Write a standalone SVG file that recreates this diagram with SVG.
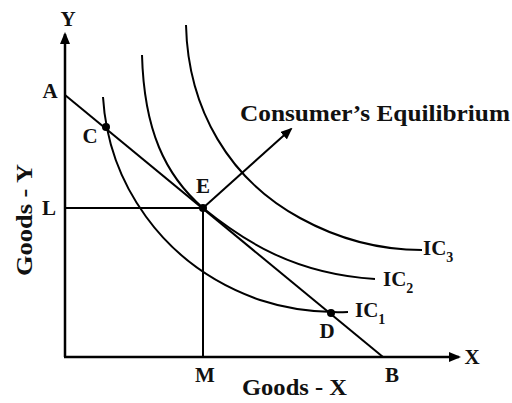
<svg xmlns="http://www.w3.org/2000/svg" width="512" height="403" viewBox="0 0 512 403">
<style>
.ln{stroke:#000;stroke-width:2;fill:none}
.ax{stroke:#000;stroke-width:2.5;fill:none}
.lb{font-family:"Liberation Serif","Times New Roman",serif;font-weight:bold;fill:#111;font-size:21px}
.gl{font-family:"Liberation Serif","Times New Roman",serif;font-weight:bold;fill:#111;font-size:23px}
.dot{fill:#000}
</style>
<defs>
<marker id="arr" viewBox="0 0 12 10" refX="10" refY="5" markerWidth="12" markerHeight="10" markerUnits="userSpaceOnUse" orient="auto">
<path d="M0,0 L12,5 L0,10 z" fill="#000"/>
</marker>
</defs>
<rect width="512" height="403" fill="#fff"/>
<g id="connectors">
<line class="ax" x1="65" y1="357" x2="65" y2="34" marker-end="url(#arr)"/>
<line class="ax" x1="64" y1="357" x2="459" y2="357" marker-end="url(#arr)"/>
<line id="budget" class="ln" x1="65" y1="95" x2="383" y2="357"/>
<line class="ln" x1="65" y1="208" x2="203" y2="208"/>
<line class="ln" x1="203" y1="208" x2="203" y2="357"/>
<path id="IC1" class="ln" d="M103,97 C108,180 160,265 260,300 C290,310 320,313 348,312"/>
<path id="IC2" class="ln" d="M142,55 C144,130 165,175 203,208 C245,242 295,274 375,279"/>
<path id="IC3" class="ln" d="M186,25 C188,110 230,180 300,218 C340,240 380,250 422,250"/>
<line class="ln" x1="203" y1="208" x2="291" y2="129" marker-end="url(#arr)"/>
</g>
<g id="pointC"><circle class="dot" cx="106" cy="127" r="4"/><text class="lb" x="90" y="143" text-anchor="middle">C</text></g>
<g id="pointE"><circle class="dot" cx="203" cy="208" r="4"/><text class="lb" x="203" y="193" text-anchor="middle">E</text></g>
<g id="pointD"><circle class="dot" cx="331" cy="313" r="4"/><text class="lb" x="327" y="338" text-anchor="middle">D</text></g>
<g id="labelA"><text class="lb" x="50" y="98" text-anchor="middle">A</text></g>
<g id="labelB"><text class="lb" x="392" y="382" text-anchor="middle">B</text></g>
<g id="labelL"><text class="lb" x="49" y="215" text-anchor="middle">L</text></g>
<g id="labelM"><text class="lb" x="205" y="382" text-anchor="middle">M</text></g>
<g id="labelX"><text class="lb" x="472" y="364" text-anchor="middle">X</text></g>
<g id="labelY"><text class="lb" x="68" y="26" text-anchor="middle">Y</text></g>
<g id="labelIC1"><text class="lb" x="355" y="317">IC<tspan font-size="14" dy="7">1</tspan></text></g>
<g id="labelIC2"><text class="lb" x="383" y="286">IC<tspan font-size="14" dy="7">2</tspan></text></g>
<g id="labelIC3"><text class="lb" x="423" y="255">IC<tspan font-size="14" dy="7">3</tspan></text></g>
<g id="goodsX"><text class="gl" x="242" y="395" textLength="105" lengthAdjust="spacingAndGlyphs">Goods - X</text></g>
<g id="goodsY"><text class="gl" transform="translate(32,220) rotate(-90)" x="0" y="0" text-anchor="middle" textLength="112" lengthAdjust="spacingAndGlyphs">Goods - Y</text></g>
<g id="equilibrium"><text class="gl" x="240" y="121" font-size="23" textLength="270" lengthAdjust="spacingAndGlyphs">Consumer’s Equilibrium</text></g>
</svg>
